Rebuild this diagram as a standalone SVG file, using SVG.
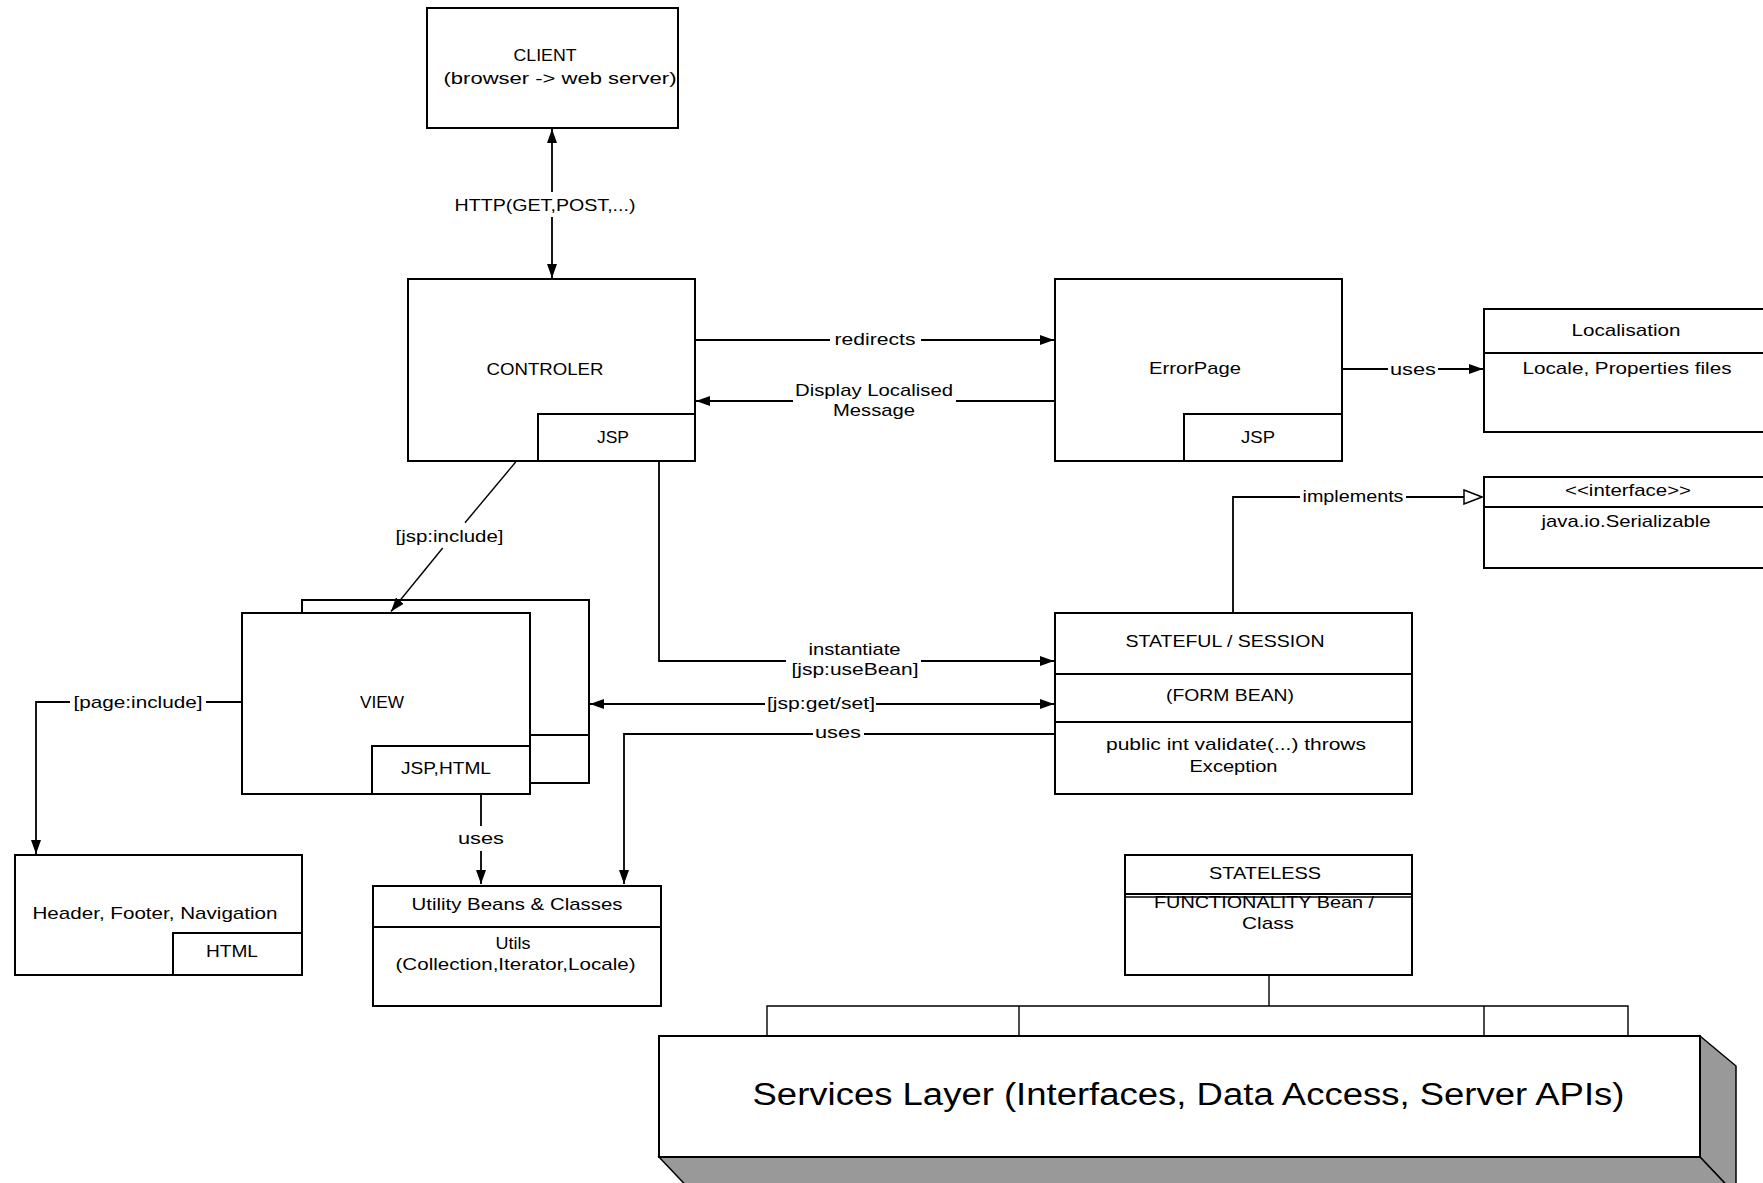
<svg xmlns="http://www.w3.org/2000/svg" width="1763" height="1183" viewBox="0 0 1763 1183">
  <style>
    .box { fill: #fff; stroke: #000; stroke-width: 2; }
    .ln { fill: none; stroke: #000; stroke-width: 1.8; }
    .thin { fill: none; stroke: #000; stroke-width: 1.4; }
    .side { fill: #999; stroke: #000; stroke-width: 1.5; }
    text { font-family: "Liberation Sans", Arial, sans-serif; font-size: 17px; fill: #000; text-anchor: middle; }
    .big { font-size: 31px; }
  </style>
  <defs>
    <marker id="arr" markerUnits="userSpaceOnUse" markerWidth="14" markerHeight="10" refX="14" refY="5" orient="auto-start-reverse">
      <path d="M0,0 L14,5 L0,10 Z" fill="#000"/>
    </marker>
    <marker id="tri" markerUnits="userSpaceOnUse" markerWidth="20" markerHeight="16" refX="19" refY="8" orient="auto">
      <path d="M1,1 L19,8 L1,15 Z" fill="#fff" stroke="#000" stroke-width="1.5"/>
    </marker>
  </defs>

  <!-- CLIENT -->
  <g id="client">
    <rect class="box" x="427" y="8" width="251" height="120"/>
    <text x="545" y="61" textLength="63" lengthAdjust="spacingAndGlyphs">CLIENT</text>
    <text x="560" y="84" textLength="233" lengthAdjust="spacingAndGlyphs">(browser -&gt; web server)</text>
  </g>

  <!-- CONTROLER -->
  <g id="controler">
    <rect class="box" x="408" y="279" width="287" height="182"/>
    <rect class="box" x="538" y="414" width="157" height="47"/>
    <text x="545" y="375" textLength="117" lengthAdjust="spacingAndGlyphs">CONTROLER</text>
    <text x="613" y="443" textLength="32" lengthAdjust="spacingAndGlyphs">JSP</text>
  </g>

  <!-- ErrorPage -->
  <g id="errorpage">
    <rect class="box" x="1055" y="279" width="287" height="182"/>
    <rect class="box" x="1184" y="414" width="158" height="47"/>
    <text x="1195" y="374" textLength="92" lengthAdjust="spacingAndGlyphs">ErrorPage</text>
    <text x="1258" y="443" textLength="34" lengthAdjust="spacingAndGlyphs">JSP</text>
  </g>

  <!-- Localisation -->
  <g id="localisation">
    <rect class="box" x="1484" y="309" width="300" height="123"/>
    <line class="ln" x1="1484" y1="353" x2="1763" y2="353"/>
    <text x="1626" y="336" textLength="109" lengthAdjust="spacingAndGlyphs">Localisation</text>
    <text x="1627" y="374" textLength="209" lengthAdjust="spacingAndGlyphs">Locale, Properties files</text>
  </g>

  <!-- Serializable interface -->
  <g id="serializable">
    <rect class="box" x="1484" y="477" width="300" height="91"/>
    <line class="ln" x1="1484" y1="507" x2="1763" y2="507"/>
    <text x="1628" y="496" textLength="126" lengthAdjust="spacingAndGlyphs">&lt;&lt;interface&gt;&gt;</text>
    <text x="1626" y="527" textLength="169" lengthAdjust="spacingAndGlyphs">java.io.Serializable</text>
  </g>

  <!-- VIEW (stacked pages) -->
  <g id="view">
    <rect class="box" x="302" y="600" width="287" height="183"/>
    <line class="ln" x1="530" y1="735" x2="589" y2="735"/>
    <rect class="box" x="242" y="613" width="288" height="181"/>
    <rect class="box" x="372" y="746" width="158" height="48"/>
    <text x="382" y="708" textLength="44" lengthAdjust="spacingAndGlyphs">VIEW</text>
    <text x="446" y="774" textLength="90" lengthAdjust="spacingAndGlyphs">JSP,HTML</text>
  </g>

  <!-- STATEFUL / SESSION form bean -->
  <g id="stateful">
    <rect class="box" x="1055" y="613" width="357" height="181"/>
    <line class="ln" x1="1055" y1="674" x2="1412" y2="674"/>
    <line class="ln" x1="1055" y1="722" x2="1412" y2="722"/>
    <text x="1225" y="647" textLength="199" lengthAdjust="spacingAndGlyphs">STATEFUL / SESSION</text>
    <text x="1230" y="701" textLength="128" lengthAdjust="spacingAndGlyphs">(FORM BEAN)</text>
    <text x="1236" y="750" textLength="260" lengthAdjust="spacingAndGlyphs">public int validate(...) throws</text>
    <text x="1233.5" y="772" textLength="88" lengthAdjust="spacingAndGlyphs">Exception</text>
  </g>

  <!-- Header, Footer, Navigation -->
  <g id="header">
    <rect class="box" x="15" y="855" width="287" height="120"/>
    <rect class="box" x="173" y="933" width="129" height="42"/>
    <text x="155" y="919" textLength="245" lengthAdjust="spacingAndGlyphs">Header, Footer, Navigation</text>
    <text x="232" y="957" textLength="52" lengthAdjust="spacingAndGlyphs">HTML</text>
  </g>

  <!-- Utility Beans & Classes -->
  <g id="utility">
    <rect class="box" x="373" y="886" width="288" height="120"/>
    <line class="ln" x1="373" y1="927" x2="661" y2="927"/>
    <text x="517" y="910" textLength="211" lengthAdjust="spacingAndGlyphs">Utility Beans &amp; Classes</text>
    <text x="513" y="949" textLength="35" lengthAdjust="spacingAndGlyphs">Utils</text>
    <text x="515.5" y="970" textLength="240" lengthAdjust="spacingAndGlyphs">(Collection,Iterator,Locale)</text>
  </g>

  <!-- STATELESS functionality bean -->
  <g id="stateless">
    <rect class="box" x="1125" y="855" width="287" height="120"/>
    <line class="ln" x1="1125" y1="894" x2="1412" y2="894"/>
    <line class="thin" x1="1125" y1="897" x2="1412" y2="897"/>
    <text x="1265" y="879" textLength="112" lengthAdjust="spacingAndGlyphs">STATELESS</text>
    <text x="1264" y="908" textLength="220" lengthAdjust="spacingAndGlyphs">FUNCTIONALITY Bean /</text>
    <text x="1268" y="929" textLength="52" lengthAdjust="spacingAndGlyphs">Class</text>
  </g>

  <!-- Services layer block -->
  <g id="services">
    <polygon class="side" points="1700,1036 1736,1066 1736,1195 1700,1157"/>
    <polygon class="side" points="659,1157 1700,1157 1736,1195 695,1195"/>
    <rect class="box" x="659" y="1036" width="1041" height="121"/>
    <text class="big" x="1188.5" y="1105" textLength="872" lengthAdjust="spacingAndGlyphs">Services Layer (Interfaces, Data Access, Server APIs)</text>
  </g>

  <!-- connectors, drawn over the nodes -->
  <g id="connectors">
    <!-- HTTP request / response -->
    <path class="ln" d="M552,192 V129" marker-end="url(#arr)"/>
    <path class="ln" d="M552,217 V278" marker-end="url(#arr)"/>
    <text x="545" y="211" textLength="181" lengthAdjust="spacingAndGlyphs">HTTP(GET,POST,...)</text>

    <!-- redirects -->
    <path class="ln" d="M696,340 H830 M921,340 H1054" marker-end="url(#arr)"/>
    <text x="875" y="345" textLength="81" lengthAdjust="spacingAndGlyphs">redirects</text>

    <!-- display localised message -->
    <path class="ln" d="M1054,401 H956 M793,401 H696" marker-end="url(#arr)"/>
    <text x="874" y="396" textLength="158" lengthAdjust="spacingAndGlyphs">Display Localised</text>
    <text x="874" y="416" textLength="82" lengthAdjust="spacingAndGlyphs">Message</text>

    <!-- ErrorPage uses Localisation -->
    <path class="ln" d="M1342,369 H1388 M1438,369 H1483" marker-end="url(#arr)"/>
    <text x="1413" y="375" textLength="46" lengthAdjust="spacingAndGlyphs">uses</text>

    <!-- implements Serializable -->
    <path class="ln" d="M1233,613 V497 H1300 M1406,497 H1482" marker-end="url(#tri)"/>
    <text x="1353" y="502" textLength="101" lengthAdjust="spacingAndGlyphs">implements</text>

    <!-- jsp:include to VIEW -->
    <path class="thin" d="M515.7,462 L465,522.7"/>
    <path class="thin" d="M442.7,548 L391,611.5" marker-end="url(#arr)"/>
    <text x="449.5" y="542" textLength="108" lengthAdjust="spacingAndGlyphs">[jsp:include]</text>

    <!-- instantiate form bean -->
    <path class="ln" d="M659,462 V661 H786 M921,661 H1054" marker-end="url(#arr)"/>
    <text x="854.5" y="655" textLength="92" lengthAdjust="spacingAndGlyphs">instantiate</text>
    <text x="855" y="675" textLength="127" lengthAdjust="spacingAndGlyphs">[jsp:useBean]</text>

    <!-- jsp:get/set both ways -->
    <path class="ln" d="M590,704 H765" marker-start="url(#arr)"/>
    <path class="ln" d="M876,704 H1054" marker-end="url(#arr)"/>
    <text x="821" y="709" textLength="108" lengthAdjust="spacingAndGlyphs">[jsp:get/set]</text>

    <!-- form bean uses utilities -->
    <path class="ln" d="M1055,734 H864 M813,734 H624 V884" marker-end="url(#arr)"/>
    <text x="838" y="738" textLength="46" lengthAdjust="spacingAndGlyphs">uses</text>

    <!-- page:include to header/footer -->
    <path class="ln" d="M242,702 H206 M70,702 H36 V854" marker-end="url(#arr)"/>
    <text x="138" y="708" textLength="129" lengthAdjust="spacingAndGlyphs">[page:include]</text>

    <!-- VIEW uses utilities -->
    <path class="ln" d="M481,795 V826 M481,851 V884" marker-end="url(#arr)"/>
    <text x="481" y="844" textLength="46" lengthAdjust="spacingAndGlyphs">uses</text>

    <!-- stateless bean to services layer -->
    <path class="thin" d="M1269,975 V1006 M767,1036 V1006 H1628 V1036 M1019,1006 V1036 M1484,1006 V1036"/>
  </g>
</svg>
